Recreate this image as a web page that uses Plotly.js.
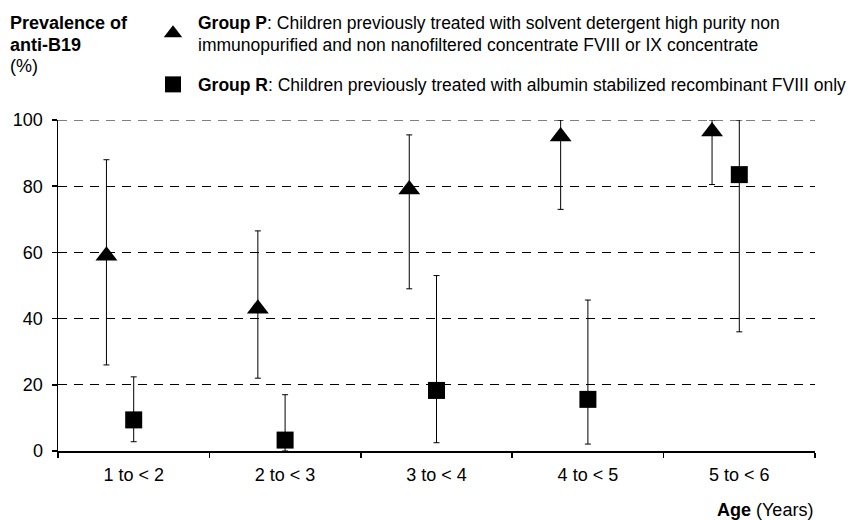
<!DOCTYPE html>
<html>
<head>
<meta charset="utf-8">
<script src="https://cdn.plot.ly/plotly-3.0.1.min.js"></script>
<style>html,body{margin:0;padding:0;background:#fff;}#chart{width:857px;height:520px;}</style>
</head>
<body>
<div id="chart"></div>
<script>
// Age categories
const categories = ["1 to < 2", "2 to < 3", "3 to < 4", "4 to < 5", "5 to < 6"];

// Group P (triangles): prevalence and 95% CI bounds (%)
const groupP = [59, 43, 79, 95, 96.5];
const groupPLow = [26, 22, 49, 73, 80.5];
const groupPHigh = [88, 66.5, 95.5, 100, 100];

// Group R (squares): prevalence and 95% CI bounds (%)
const groupR = [9.4, 3.3, 18.3, 15.6, 83.5];
const groupRLow = [2.8, 0, 2.5, 2.1, 36];
const groupRHigh = [22.4, 17, 53, 45.6, 100];

const yTicks = [0, 20, 40, 60, 80, 100];

const nameP = "<b>Group P</b>: Children previously treated with solvent detergent high purity non<br>immunopurified and non nanofiltered concentrate FVIII or IX concentrate";
const nameR = "<b>Group R</b>: Children previously treated with albumin stabilized recombinant FVIII only";

const FONT = "Liberation Sans, Arial, sans-serif";
const idx = categories.map((c, i) => i);
const pOffset = -0.18;
const yMax = yTicks[yTicks.length - 1];

const traceP = {
  type: "scatter", mode: "markers", name: nameP, legendgroup: "P",
  x: idx.map(i => i + pOffset), y: groupP,
  marker: {symbol: "triangle-up", size: 19, color: "#000"},
  error_y: {type: "data", symmetric: false,
    array: groupP.map((v, i) => groupPHigh[i] - v),
    arrayminus: groupP.map((v, i) => v - groupPLow[i]),
    color: "#000", thickness: 1, width: 3},
  hoverinfo: "y"
};
const traceR = {
  type: "scatter", mode: "markers", name: nameR, legendgroup: "R",
  x: idx, y: groupR,
  marker: {symbol: "square", size: 17, color: "#000"},
  error_y: {type: "data", symmetric: false,
    array: groupR.map((v, i) => groupRHigh[i] - v),
    arrayminus: groupR.map((v, i) => v - groupRLow[i]),
    color: "#000", thickness: 1, width: 3},
  hoverinfo: "y"
};

// plot area: x 58..815, y 120..451
const PT = 120, PB = 451, PH = PB - PT;
const py = px => (PB - px) / PH;

const layout = {
  width: 857, height: 520,
  margin: {l: 58, r: 42, t: PT, b: 520 - PB, autoexpand: false},
  paper_bgcolor: "#fff", plot_bgcolor: "#fff",
  font: {family: FONT, size: 17, color: "#000"},
  showlegend: true,
  legend: {x: 0.1189, xanchor: "left", y: py(4), yanchor: "top",
    traceorder: "grouped", tracegroupgap: 14, bgcolor: "rgba(0,0,0,0)",
    itemwidth: 40,
    font: {family: FONT, size: 17.5, color: "#000"}, valign: "middle"},
  xaxis: {
    range: [-0.5, categories.length - 0.5],
    tickmode: "array", tickvals: idx, ticktext: categories,
    ticks: "", showgrid: false, zeroline: false,
    showline: true, linecolor: "#000", linewidth: 1.5,
    ticklabelstandoff: 7,
    tickfont: {family: FONT, size: 18, color: "#000"},
    minor: {tick0: -0.5, dtick: 1, ticks: "outside", ticklen: 5, tickwidth: 1.5, tickcolor: "#000", showgrid: false},
    fixedrange: true
  },
  yaxis: {
    range: [0, yMax],
    tickmode: "array", tickvals: yTicks, ticktext: yTicks.map(String),
    ticks: "outside", ticklen: 5, tickwidth: 1.5, tickcolor: "#000",
    showline: true, linecolor: "#000", linewidth: 1.5,
    showgrid: true, gridcolor: "#000", gridwidth: 1, griddash: "9px,7px",
    zeroline: false, ticklabelstandoff: 5,
    tickfont: {family: FONT, size: 18, color: "#000"},
    fixedrange: true
  },
  shapes: [
    {type: "line", xref: "paper", x0: 0, x1: 1, yref: "y", y0: yMax, y1: yMax,
     line: {color: "#000", width: 1, dash: "9px,7px"}, layer: "below"}
  ],
  annotations: [
    {xref: "paper", yref: "paper", x: -0.066, y: py(23), xanchor: "left", yanchor: "middle",
     align: "left", showarrow: false, text: "<b>Prevalence of</b>",
     font: {family: FONT, size: 18, color: "#000"}},
    {xref: "paper", yref: "paper", x: -0.066, y: py(45), xanchor: "left", yanchor: "middle",
     align: "left", showarrow: false, text: "<b>anti-B19</b>",
     font: {family: FONT, size: 18, color: "#000"}},
    {xref: "paper", yref: "paper", x: -0.066, y: py(66), xanchor: "left", yanchor: "middle",
     align: "left", showarrow: false, text: "(%)",
     font: {family: FONT, size: 18, color: "#000"}},
    {xref: "paper", yref: "paper", x: 1, y: py(510), xanchor: "right", yanchor: "middle",
     showarrow: false, text: "<b>Age</b> (Years)",
     font: {family: FONT, size: 18, color: "#000"}}
  ]
};

Plotly.newPlot("chart", [traceP, traceR], layout, {displayModeBar: false, staticPlot: true});
</script>
</body>
</html>
